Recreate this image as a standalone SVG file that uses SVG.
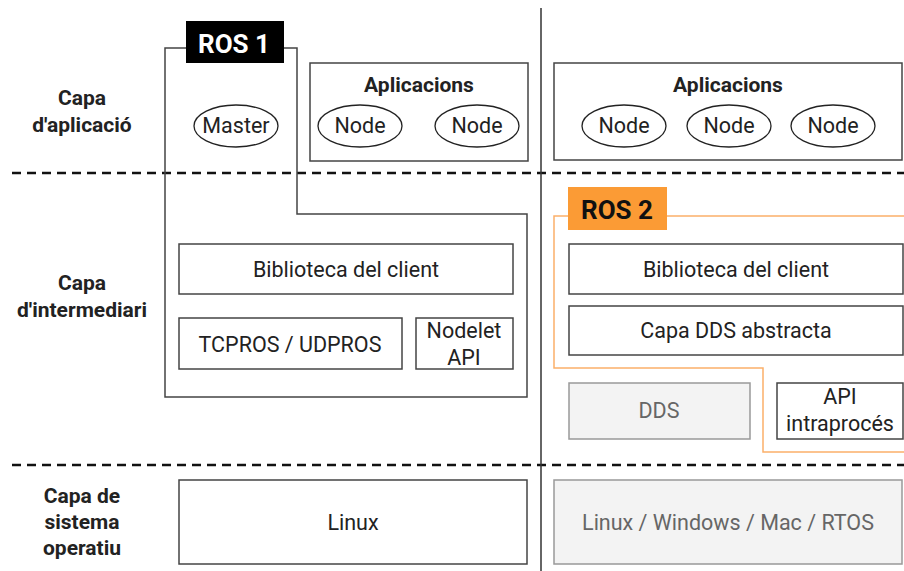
<svg xmlns="http://www.w3.org/2000/svg" width="904" height="571" viewBox="0 0 904 571">
<style>
text{font-family:Roboto,"Liberation Sans",sans-serif;fill:#222;text-anchor:middle;}
.lbl{font-size:21px;font-weight:bold;}
.t{font-size:21.5px;}
.box{fill:#fff;stroke:#444;stroke-width:1.5;}
.gbox{fill:#f3f3f3;stroke:#999;stroke-width:1.5;}
.gt{fill:#666;}
.ell{fill:#fff;stroke:#222;stroke-width:1.3;}
.dash{stroke:#111;stroke-width:2.5;stroke-dasharray:9 6;fill:none;}
</style>
<rect width="904" height="571" fill="#fff"/>
<g id="layers">
<line class="dash" x1="12" y1="173" x2="904" y2="173"/>
<line class="dash" x1="12" y1="465" x2="904" y2="465"/>
<line x1="541" y1="8" x2="541" y2="571" stroke="#333" stroke-width="1.5"/>
<text class="lbl" x="82" y="105">Capa</text>
<text class="lbl" x="82" y="132">d'aplicació</text>
<text class="lbl" x="82" y="290">Capa</text>
<text class="lbl" x="82" y="317">d'intermediari</text>
<text class="lbl" x="82" y="503">Capa de</text>
<text class="lbl" x="82" y="529">sistema</text>
<text class="lbl" x="82" y="555">operatiu</text>
</g>
<g id="ros1">
<path d="M165 48 H297 V214 H527 V397 H165 Z" fill="none" stroke="#444" stroke-width="1.5"/>
<rect x="186" y="21" width="98" height="42" fill="#000"/>
<text x="234" y="53" style="font-size:26px;font-weight:bold;fill:#fff">ROS 1</text>
</g>
<g id="master">
<ellipse class="ell" cx="236" cy="126" rx="42" ry="21"/>
<text class="t" x="236" y="133">Master</text>
</g>
<g id="apps1">
<rect class="box" x="310" y="63" width="218" height="98"/>
<text class="lbl" x="419" y="92">Aplicacions</text>
<ellipse class="ell" cx="360" cy="126" rx="42" ry="21"/>
<text class="t" x="360" y="133">Node</text>
<ellipse class="ell" cx="477" cy="126" rx="42" ry="21"/>
<text class="t" x="477" y="133">Node</text>
</g>
<g id="lib1">
<rect class="box" x="179" y="244" width="334" height="50"/>
<text class="t" x="346" y="277">Biblioteca del client</text>
</g>
<g id="tcpros">
<rect class="box" x="179" y="318" width="223" height="51"/>
<text class="t" x="290" y="352">TCPROS / UDPROS</text>
</g>
<g id="nodelet">
<rect class="box" x="416" y="318" width="97" height="51"/>
<text class="t" x="464" y="338">Nodelet</text>
<text class="t" x="464" y="365">API</text>
</g>
<g id="linux">
<rect class="box" x="179" y="480" width="348" height="84"/>
<text class="t" x="353" y="530">Linux</text>
</g>
<g id="apps2">
<rect class="box" x="554" y="63" width="348" height="97"/>
<text class="lbl" x="728" y="92">Aplicacions</text>
<ellipse class="ell" cx="624" cy="126" rx="42" ry="21"/>
<text class="t" x="624" y="133">Node</text>
<ellipse class="ell" cx="729" cy="126" rx="42" ry="21"/>
<text class="t" x="729" y="133">Node</text>
<ellipse class="ell" cx="833" cy="126" rx="42" ry="21"/>
<text class="t" x="833" y="133">Node</text>
</g>
<g id="ros2">
<path d="M904 216 H554 V368 H763 V452 H904" fill="none" stroke="#fbb06a" stroke-width="1.5"/>
<rect x="568" y="187" width="99" height="43" fill="#fb9b35"/>
<text x="617" y="219" style="font-size:26px;font-weight:bold;fill:#111">ROS 2</text>
</g>
<g id="lib2">
<rect class="box" x="569" y="244" width="334" height="50"/>
<text class="t" x="736" y="277">Biblioteca del client</text>
</g>
<g id="ddsabs">
<rect class="box" x="569" y="306" width="334" height="49"/>
<text class="t" x="736" y="338">Capa DDS abstracta</text>
</g>
<g id="dds">
<rect class="gbox" x="569" y="383" width="181" height="56"/>
<text class="t gt" x="659" y="418">DDS</text>
</g>
<g id="intra">
<rect class="box" x="777" y="383" width="126" height="56"/>
<text class="t" x="840" y="404">API</text>
<text class="t" x="840" y="431">intraprocés</text>
</g>
<g id="os2">
<rect class="gbox" x="554" y="480" width="348" height="84"/>
<text class="t gt" x="728" y="530">Linux / Windows / Mac / RTOS</text>
</g>
<g id="connectors"></g>
</svg>
